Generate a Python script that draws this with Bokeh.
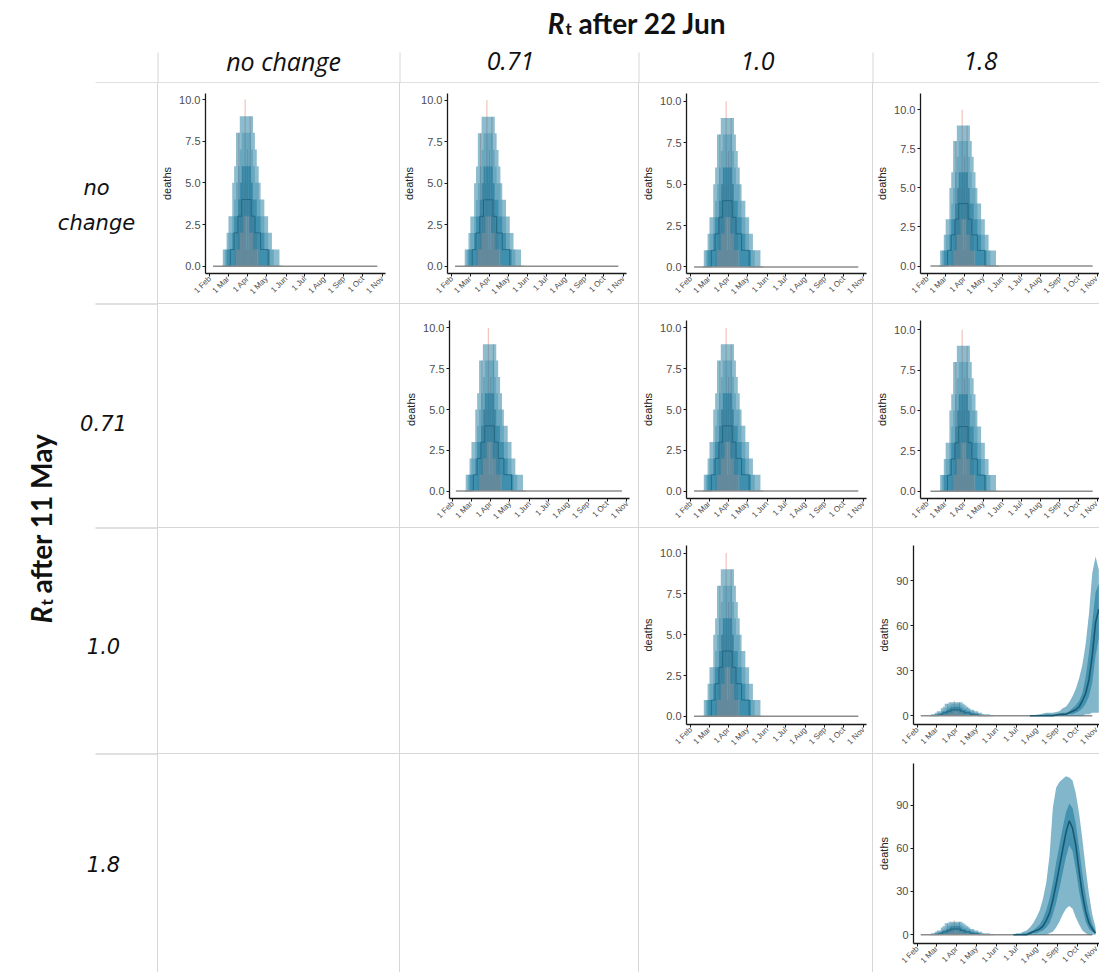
import math
import pandas as pd
from bokeh.plotting import figure
from bokeh.layouts import row, column
from bokeh.models import (Range1d, FixedTicker, DatetimeTickFormatter,
                          NumeralTickFormatter, Spacer, ColumnDataSource)
from bokeh.core.properties import value
from bokeh.embed import file_html
from bokeh.resources import INLINE

# ---------------------------------------------------------------- data
col_labels = ["no change", "0.71", "1.0", "1.8"]
row_labels = ["no\nchange", "0.71", "1.0", "1.8"]
top_title = "after 22 Jun"
left_title = "after 11 May"
y_label = "deaths"

month_ticks = ["2020-02-01", "2020-03-01", "2020-04-01", "2020-05-01", "2020-06-01",
               "2020-07-01", "2020-08-01", "2020-09-01", "2020-10-01", "2020-11-01"]
month_labels = ["1 Feb", "1 Mar", "1 Apr", "1 May", "1 Jun",
                "1 Jul", "1 Aug", "1 Sep", "1 Oct", "1 Nov"]
yticks_small = [0, 2.5, 5, 7.5, 10]
yticks_large = [0, 30, 60, 90]

baseline_dates = ["2020-02-06", "2020-10-24"]
baseline_deaths = [0, 0]

# first wave (model quantiles, integer daily deaths)
w1_dates = ["2020-02-20", "2020-02-23", "2020-02-26", "2020-02-29", "2020-03-03",
            "2020-03-06", "2020-03-09", "2020-03-12", "2020-03-15", "2020-03-18",
            "2020-03-21", "2020-03-24", "2020-03-27", "2020-03-30", "2020-04-02",
            "2020-04-05", "2020-04-08", "2020-04-11", "2020-04-14", "2020-04-17",
            "2020-04-20", "2020-04-23", "2020-04-26", "2020-04-29", "2020-05-02",
            "2020-05-05", "2020-05-08", "2020-05-11", "2020-05-14", "2020-05-17",
            "2020-05-20", "2020-05-23", "2020-05-26"]
w1_hi95 = [0, 1, 1, 2, 3, 3, 5, 6, 8, 8, 9, 9, 9, 9, 9, 9, 9, 8, 7, 6, 5, 4, 4, 3, 3, 2, 2, 1, 1, 1, 1, 0, 0]
w1_lo95 = [0] * 33
w1_hi80 = [0, 0, 1, 1, 2, 2, 3, 4, 5, 6, 7, 8, 8, 8, 8, 8, 7, 6, 5, 5, 4, 3, 3, 2, 2, 1, 1, 1, 0, 0, 0, 0, 0]
w1_lo80 = [0] * 33
w1_hi50 = [0, 0, 0, 1, 1, 1, 2, 3, 3, 4, 5, 6, 6, 6, 6, 6, 5, 4, 4, 3, 3, 2, 2, 1, 1, 1, 0, 0, 0, 0, 0, 0, 0]
w1_lo50 = [0, 0, 0, 0, 0, 0, 0, 0, 1, 1, 2, 2, 3, 3, 3, 2, 2, 1, 1, 1, 0, 0, 0, 0, 0, 0, 0, 0, 0, 0, 0, 0, 0]
w1_med = [0, 0, 0, 0, 0, 1, 1, 2, 2, 3, 3, 4, 4, 4, 4, 4, 3, 3, 2, 2, 2, 1, 1, 1, 1, 0, 0, 0, 0, 0, 0, 0, 0]

# observed daily deaths
obs_dates = ["2020-03-12", "2020-03-13", "2020-03-14", "2020-03-15", "2020-03-16",
             "2020-03-17", "2020-03-18", "2020-03-19", "2020-03-20", "2020-03-21",
             "2020-03-22", "2020-03-23", "2020-03-24", "2020-03-25", "2020-03-26",
             "2020-03-27", "2020-03-28", "2020-03-29", "2020-03-30", "2020-03-31",
             "2020-04-01", "2020-04-02", "2020-04-03", "2020-04-04", "2020-04-05",
             "2020-04-06", "2020-04-07", "2020-04-08", "2020-04-09", "2020-04-10",
             "2020-04-11", "2020-04-12", "2020-04-13", "2020-04-14", "2020-04-15",
             "2020-04-16", "2020-04-17", "2020-04-18"]
obs_deaths = [1, 0, 1, 2, 1, 3, 8, 2, 4, 3, 5, 2, 6, 3, 5, 4, 10, 6, 1, 5,
              7, 4, 1, 6, 9, 3, 5, 2, 4, 3, 1, 2, 3, 1, 2, 1, 0, 1]

# second wave, Rt 1.0 after 11 May and 1.8 after 22 Jun
w2a_dates = ["2020-07-21", "2020-08-05", "2020-08-15", "2020-08-25", "2020-09-04",
             "2020-09-09", "2020-09-14", "2020-09-19", "2020-09-24", "2020-09-29",
             "2020-10-04", "2020-10-09", "2020-10-14", "2020-10-19", "2020-10-24",
             "2020-10-29", "2020-11-03"]
w2a_lo95 = [0, 0, 0, 0, 0, 0, 0, 0, 0, 0, 0, 0, 1, 1, 2, 2, 2]
w2a_lo50 = [0, 0, 0, 0, 0, 0, 1, 1, 1, 2, 3, 5, 8, 13, 22, 40, 52]
w2a_med = [0, 0, 0, 0, 1, 1, 1, 2, 3, 4, 6, 10, 15, 24, 40, 62, 71]
w2a_hi50 = [0, 0, 1, 1, 1, 2, 2, 3, 5, 7, 10, 15, 26, 42, 62, 82, 88]
w2a_hi95 = [0, 1, 2, 2, 3, 5, 6, 9, 13, 18, 25, 34, 48, 68, 95, 106, 97]

# second wave, Rt 1.8 after 11 May and 1.8 after 22 Jun
w2b_dates = ["2020-06-26", "2020-07-01", "2020-07-06", "2020-07-11", "2020-07-16",
             "2020-07-21", "2020-07-26", "2020-07-31", "2020-08-05", "2020-08-10",
             "2020-08-15", "2020-08-20", "2020-08-25", "2020-08-30", "2020-09-04",
             "2020-09-09", "2020-09-14", "2020-09-19", "2020-09-24", "2020-09-29",
             "2020-10-04", "2020-10-09", "2020-10-14", "2020-10-19", "2020-10-24",
             "2020-10-29"]
w2b_lo95 = [0, 0, 0, 0, 0, 0, 0, 0, 0, 0, 0, 1, 2, 5, 9, 14, 18, 20, 18, 12, 7, 3, 1, 0, 0, 0]
w2b_lo50 = [0, 0, 0, 0, 0, 0, 1, 1, 2, 3, 5, 8, 14, 22, 32, 43, 54, 62, 58, 45, 30, 18, 9, 4, 2, 1]
w2b_med = [0, 0, 0, 0, 0, 1, 2, 3, 4, 6, 10, 15, 24, 35, 47, 59, 71, 79, 74, 62, 44, 28, 16, 8, 4, 1]
w2b_hi50 = [0, 0, 0, 1, 1, 2, 3, 5, 7, 11, 17, 25, 36, 50, 62, 74, 85, 91, 88, 77, 60, 42, 27, 15, 7, 3]
w2b_hi95 = [0, 1, 1, 2, 3, 5, 8, 12, 17, 25, 36, 55, 88, 102, 106, 108, 110, 109, 107, 98, 84, 66, 46, 28, 14, 5]

# ---------------------------------------------------------------- style / layout
BAND = "#1B7A9E"
MED = "#14536C"
OBS = "#E07E66"
GRID = "#D6D6D6"
AX = "#1A1A1A"
TICK_TXT = "#4D4D4D"
AXFONT = "Liberation Sans"
TITLE_FONT = "Lato"

col_w = [241, 238, 233, 226]
row_h = [220, 223, 225, 218]
left_w = 157
header_h = 83

panel_specs = {
    (0, 0): dict(b=(47, 10, 14, 30), y=(-0.44, 10.36), x=("2020-01-25", "2020-11-06")),
    (0, 1): dict(b=(46, 10, 12, 29), y=(-0.44, 10.40), x=("2020-01-25", "2020-11-06")),
    (0, 2): dict(b=(44, 10, 6, 29), y=(-0.40, 10.48), x=("2020-01-25", "2020-11-06")),
    (0, 3): dict(b=(45, 10, 0, 28), y=(-0.48, 11.05), x=("2020-01-21", "2020-11-04")),
    (1, 1): dict(b=(49, 15, 9, 26), y=(-0.46, 10.46), x=("2020-01-27", "2020-11-05")),
    (1, 2): dict(b=(44, 15, 6, 26), y=(-0.46, 10.46), x=("2020-01-25", "2020-11-06")),
    (1, 3): dict(b=(44, 16, 0, 23), y=(-0.45, 10.57), x=("2020-01-21", "2020-11-04")),
    (2, 2): dict(b=(45, 17, 6, 25), y=(-0.50, 10.46), x=("2020-01-25", "2020-11-06")),
    (2, 3): dict(b=(40, 17, 0, 24), y=(-5.8, 113.3), x=("2020-01-26", "2020-11-04"), wave="a"),
    (3, 3): dict(b=(40, 9, 0, 24), y=(-6.1, 118.8), x=("2020-01-26", "2020-11-04"), wave="b"),
}

tick_ms = [float(pd.Timestamp(d).value // 10**6) for d in month_ticks]

src_w1 = ColumnDataSource(dict(x=pd.to_datetime(w1_dates), lo95=w1_lo95, hi95=w1_hi95,
                               lo80=w1_lo80, hi80=w1_hi80, lo50=w1_lo50, hi50=w1_hi50, med=w1_med))
src_obs = ColumnDataSource(dict(x=pd.to_datetime(obs_dates), y0=[0] * len(obs_deaths), y=obs_deaths))
src_base = ColumnDataSource(dict(x=pd.to_datetime(baseline_dates), y=baseline_deaths))
waves = {
    "a": ColumnDataSource(dict(x=pd.to_datetime(w2a_dates), lo95=w2a_lo95, lo50=w2a_lo50,
                               med=w2a_med, hi50=w2a_hi50, hi95=w2a_hi95)),
    "b": ColumnDataSource(dict(x=pd.to_datetime(w2b_dates), lo95=w2b_lo95, lo50=w2b_lo50,
                               med=w2b_med, hi50=w2b_hi50, hi95=w2b_hi95)),
}


def gline(w, h):
    return Spacer(width=w, height=h, styles={"background-color": GRID})


def make_panel(w, h, spec):
    l, t, r, b = spec["b"]
    p = figure(width=w, height=h, x_axis_type="datetime",
               x_range=Range1d(pd.Timestamp(spec["x"][0]), pd.Timestamp(spec["x"][1])),
               y_range=Range1d(*spec["y"]),
               toolbar_location=None, output_backend="svg",
               min_border_left=l, min_border_top=t, min_border_right=r, min_border_bottom=b)
    p.outline_line_color = None
    p.grid.visible = False
    big = "wave" in spec

    p.segment(x0="x", y0="y0", x1="x", y1="y", source=src_obs, line_color=OBS,
              line_width=0.8, line_alpha=0.7)
    p.varea_step(x="x", y1="lo95", y2="hi95", step_mode="center", source=src_w1,
                 fill_color=BAND, fill_alpha=0.5)
    p.varea_step(x="x", y1="lo80", y2="hi80", step_mode="center", source=src_w1,
                 fill_color=BAND, fill_alpha=0.3)
    p.varea_step(x="x", y1="lo50", y2="hi50", step_mode="center", source=src_w1,
                 fill_color=BAND, fill_alpha=0.55)
    p.step(x="x", y="med", mode="center", source=src_w1, line_color=MED,
           line_width=1, line_alpha=0.6)
    p.line(x="x", y="y", source=src_base, line_color="#8C8C8C", line_width=1.5)
    if big:
        s = waves[spec["wave"]]
        p.varea(x="x", y1="lo95", y2="hi95", source=s, fill_color=BAND, fill_alpha=0.55)
        p.varea(x="x", y1="lo50", y2="hi50", source=s, fill_color=BAND, fill_alpha=0.6)
        p.line(x="x", y="med", source=s, line_color=MED, line_width=1.6, line_alpha=0.9)

    p.xaxis.ticker = FixedTicker(ticks=tick_ms)
    p.xaxis.formatter = DatetimeTickFormatter(days="1 %b", months="1 %b", years="1 %b")
    p.xaxis.major_label_overrides = {t_: lb for t_, lb in zip(tick_ms, month_labels)}
    p.xaxis.major_label_orientation = math.pi / 4
    p.xaxis.major_label_text_font_size = "8px"
    p.xaxis.major_label_standoff = 1
    p.yaxis.ticker = FixedTicker(ticks=yticks_large if big else yticks_small)
    p.yaxis.formatter = NumeralTickFormatter(format="0" if big else "0.0")
    p.yaxis.major_label_text_font_size = "11px"
    p.yaxis.major_label_standoff = 2
    p.yaxis.axis_label = y_label
    p.yaxis.axis_label_text_font_size = "11px"
    p.yaxis.axis_label_text_font_style = "normal"
    p.yaxis.axis_label_text_color = "#222222"
    p.yaxis.axis_label_standoff = 3
    p.yaxis.axis_label_text_font = AXFONT
    for ax in (p.xaxis, p.yaxis):
        ax.major_label_text_font = AXFONT
        ax.major_label_text_color = TICK_TXT
        ax.axis_line_color = AX
        ax.axis_line_width = 1.3
        ax.major_tick_line_color = AX
        ax.major_tick_out = 3
        ax.major_tick_in = 0
        ax.minor_tick_line_color = None
    return p


# ---------------------------------------------------------------- header
col_edges = [157, 399, 638, 872]
col_label_x = [283, 510, 757, 980]
header = figure(width=left_w + sum(col_w) + 4, height=header_h,
                x_range=Range1d(0, 1099), y_range=Range1d(83, 0),
                toolbar_location=None, output_backend="svg", min_border=0)
header.axis.visible = False
header.grid.visible = False
header.outline_line_color = None
header.segment(x0=[e + 0.5 for e in col_edges], y0=[52] * 4,
               x1=[e + 0.5 for e in col_edges], y1=[83] * 4, line_color=GRID, line_width=1)
header.segment(x0=[95], y0=[82.5], x1=[1099], y1=[82.5], line_color=GRID, line_width=1.5)
header.text(x=col_label_x, y=[60] * 4, text=col_labels, text_align="center",
            text_baseline="middle", text_font=value("Open Sans"), text_font_style="italic",
            text_font_size="25px", text_color="#111111")
header.text(x=[564], y=[22], text=["R"], text_align="right", text_baseline="alphabetic",
            text_font=value(TITLE_FONT), text_font_style="bold italic",
            text_font_size="28px", text_color="#111111")
header.text(x=[565], y=[28], text=["t"], text_align="left", text_baseline="alphabetic",
            text_font=value(TITLE_FONT), text_font_style="bold",
            text_font_size="17px", text_color="#111111")
header.text(x=[578], y=[22], text=[top_title], text_align="left", text_baseline="alphabetic",
            text_font=value(TITLE_FONT), text_font_style="bold",
            text_font_size="28px", text_color="#111111")

# ---------------------------------------------------------------- left labels
body_h = sum(row_h) + 3
left = figure(width=left_w, height=body_h, x_range=Range1d(0, 157), y_range=Range1d(972, 83),
              toolbar_location=None, output_backend="svg", min_border=0)
left.axis.visible = False
left.grid.visible = False
left.outline_line_color = None
row_edges = [303, 527, 753]
left.segment(x0=[95] * 3, y0=[e + 0.5 for e in row_edges], x1=[157] * 3,
             y1=[e + 0.5 for e in row_edges], line_color=GRID, line_width=1.5)
left.text(x=[96, 103, 103, 103], y=[205, 422, 645, 863], text=row_labels,
          text_align="center", text_baseline="middle", text_font=value("DejaVu Sans"),
          text_font_style="italic", text_font_size="21px", text_color="#111111",
          text_line_height=1.45)
left.text(x=[40], y=[606], text=["R"], angle=math.pi / 2, text_align="right",
          text_baseline="alphabetic", text_font=value(TITLE_FONT),
          text_font_style="bold italic", text_font_size="28px", text_color="#111111")
left.text(x=[46], y=[605], text=["t"], angle=math.pi / 2, text_align="left",
          text_baseline="alphabetic", text_font=value(TITLE_FONT),
          text_font_style="bold", text_font_size="17px", text_color="#111111")
left.text(x=[40], y=[593], text=[left_title], angle=math.pi / 2, text_align="left",
          text_baseline="alphabetic", text_font=value(TITLE_FONT),
          text_font_style="bold", text_font_size="28px", text_color="#111111")

# ---------------------------------------------------------------- body grid
body_w = sum(col_w) + 4
rows = []
for r in range(4):
    if r > 0:
        rows.append(gline(body_w, 1))
    items = []
    for c in range(4):
        items.append(gline(1, row_h[r]))
        if (r, c) in panel_specs:
            items.append(make_panel(col_w[c], row_h[r], panel_specs[(r, c)]))
        else:
            items.append(Spacer(width=col_w[c], height=row_h[r]))
    rows.append(row(*items, spacing=0))
body = column(*rows, spacing=0)

page = column(header, row(left, body, spacing=0), spacing=0)

open("out.html", "w").write(file_html(page, INLINE))
